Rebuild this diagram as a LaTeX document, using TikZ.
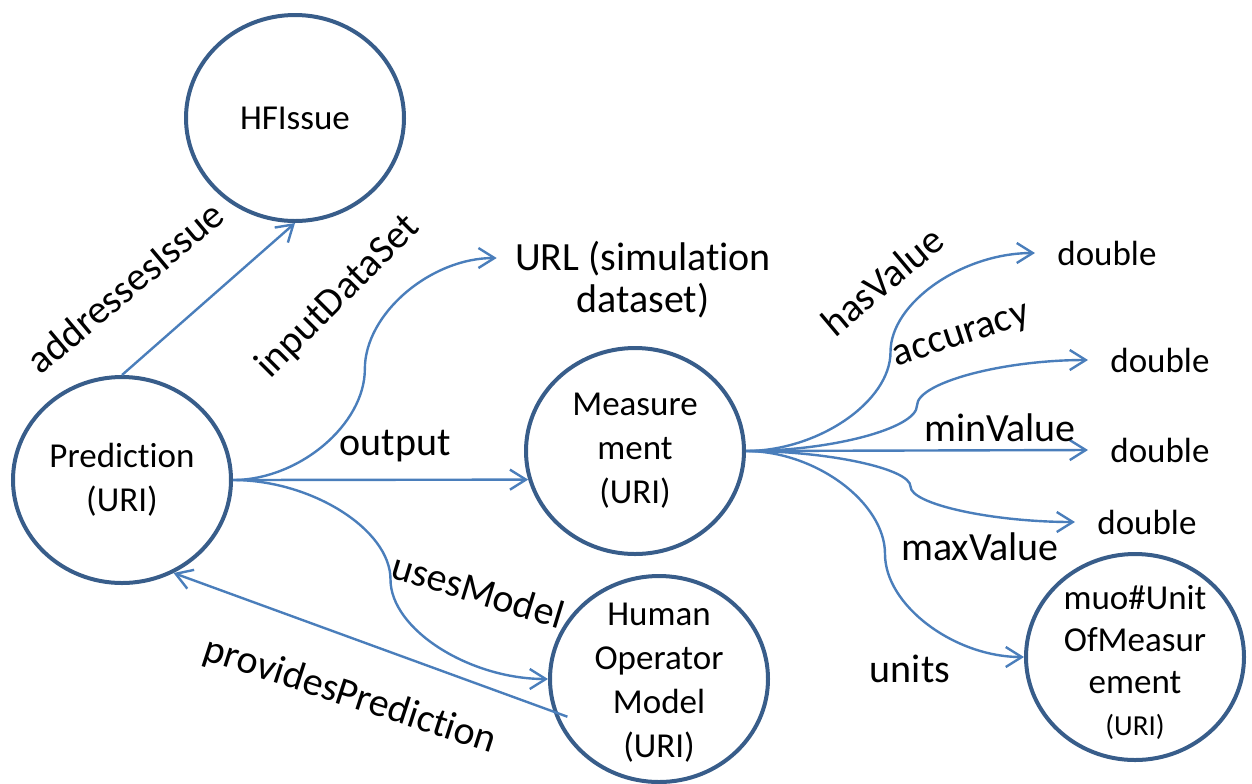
\documentclass[tikz,border=0pt]{standalone}
\usepackage{fontspec}
\setmainfont{Carlito}[Ligatures={NoCommon,NoContextual}]
\usetikzlibrary{shapes.geometric,arrows.meta,calc}

\definecolor{entblue}{RGB}{56,93,138}
\definecolor{relblue}{RGB}{74,126,187}

\tikzset{
  ent/.style={ellipse, draw=entblue, line width=2pt, minimum width=109pt, minimum height=103pt, inner sep=0pt},
  enttext/.style={align=center, font=\fontsize{17.5}{22}\selectfont},
  rel/.style={draw=relblue, line width=1.2pt, -{Straight Barb[length=8pt,width=10pt]}},
  rellabel/.style={font=\fontsize{20}{21}\selectfont, inner sep=0pt},
  val/.style={anchor=west, inner xsep=11pt, inner ysep=0pt, font=\fontsize{17.5}{21}\selectfont},
  % curved connector: two halves, vertical in the middle
  pptcurve/.style={to path={let \p1=(\tikztostart), \p2=(\tikztotarget) in
    .. controls ({(3*\x1+\x2)/4},\y1) and ({(\x1+\x2)/2},{(3*\y1+\y2)/4})
    .. ({(\x1+\x2)/2},{(\y1+\y2)/2})
    .. controls ({(\x1+\x2)/2},{(\y1+3*\y2)/4}) and ({(\x1+3*\x2)/4},\y2)
    .. (\tikztotarget) \tikztonodes}}
}

\begin{document}
\begin{tikzpicture}[x=0.5pt,y=-0.5pt]
  \useasboundingbox (0,0) rectangle (1252,783);

  % classes
  \node[ent] (hfi) at (295,118) {};
  \node[ent] (pred) at (122,480) {};
  \node[ent] (meas) at (635,451) {};
  \node[ent] (hom) at (659,679) {};
  \node[ent] (muo) at (1135,657) {};
  \node[enttext] (hfitext) at (hfi) {HFIssue};
  \node[enttext] (predtext) at (pred) {Prediction\\(URI)};
  \node[enttext] (meastext) at (meas) {Measure\\ment\\(URI)};
  \node[enttext] (homtext) at (659,683) {Human\\Operator\\Model\\(URI)};
  \node[enttext, font=\fontsize{17.5}{21}\selectfont] (muotext) at (1135,662)
    {muo\#Unit\\OfMeasur\\ement\\{\fontsize{14.5}{18}\selectfont (URI)}};

  % literals
  \node[rellabel, align=center, inner xsep=9pt] (url) at (643,280) {URL (simulation\\dataset)};
  \coordinate (urltip) at ([yshift=11pt]url.west);
  \node[val] (dbl1) at (1035,253) {double};
  \node[val] (dbl2) at (1088,360) {double};
  \node[val] (dbl3) at (1088,450) {double};
  \node[val] (dbl4) at (1075,522) {double};

  % properties
  \draw[rel] (pred.north) -- (hfi.south);
  \draw[rel] (pred.east) to[pptcurve] (urltip);
  \draw[rel] (pred.east) -- (meas.195);
  \draw[rel] (pred.east) to[pptcurve] (hom.west);
  \coordinate (homtail) at ([xshift=6pt]hom.200);
  \draw[rel] (homtail) -- (pred.-61);
  \draw[rel] (meas.east) to[pptcurve] (dbl1.west);
  \draw[rel] (meas.east) to[pptcurve] (dbl2.west);
  \draw[rel] (meas.east) -- (dbl3.west);
  \draw[rel] (meas.east) to[pptcurve] (dbl4.west);
  \draw[rel] (meas.east) to[pptcurve] (muo.west);

  \node[rellabel, rotate=40] (lbladdr) at (125,287) {addressesIssue};
  \node[rellabel, rotate=45] (lblinput) at (338,297) {inputDataSet};
  \node[rellabel] (lblout) at (395,446) {output};
  \node[rellabel, rotate=-17] (lbluses) at (478,590) {usesModel};
  \node[rellabel, rotate=-18] (lblprov) at (350,696) {providesPrediction};
  \node[rellabel, rotate=40] (lblhas) at (882,281) {hasValue};
  \node[rellabel, rotate=18] (lblacc) at (962,338) {accuracy};
  \node[rellabel] (lblmin) at (1000,428) {minValue};
  \node[rellabel] (lblmax) at (980,547) {maxValue};
  \node[rellabel] (lblunits) at (910,669) {units};
\end{tikzpicture}
\end{document}
